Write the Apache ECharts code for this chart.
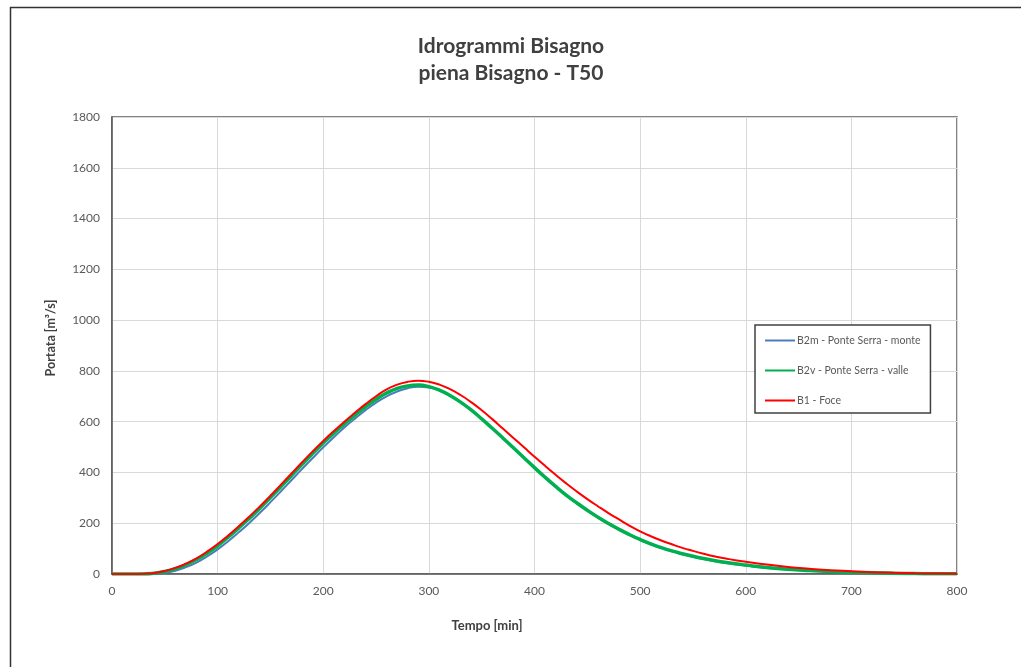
<!DOCTYPE html>
<html>
<head>
<meta charset="utf-8">
<script src="https://cdn.jsdelivr.net/npm/echarts@6/dist/echarts.min.js"></script>
<style>
  html, body { margin: 0; padding: 0; background: #fff; }
  #chart { width: 1021px; height: 667px; }
</style>
</head>
<body>
<div id="chart"></div>
<script>
// tempo [min]
var tempo = [
    0, 10, 20, 30, 40, 50, 60, 70, 80, 90,
    100, 110, 120, 130, 140, 150, 160, 170, 180, 190,
    200, 210, 220, 230, 240, 250, 260, 270, 280, 290,
    300, 310, 320, 330, 340, 350, 360, 370, 380, 390,
    400, 410, 420, 430, 440, 450, 460, 470, 480, 490,
    500, 510, 520, 530, 540, 550, 560, 570, 580, 590,
    600, 620, 640, 660, 680, 700, 720, 740, 760, 780, 800
];

// B2m - Ponte Serra - monte
var b2m = [
    0, 0, 0, 0, 0, 4, 13, 27, 45, 69,
    97, 129, 164, 201, 241, 283, 326, 370, 414, 457,
    499, 539, 577, 612, 645, 675, 700, 719, 732, 738,
    735, 723, 703, 677, 646, 611, 574, 536, 497, 458,
    417, 379, 343, 309, 278, 249, 222, 197, 174, 153,
    134, 117, 102, 89, 78, 68, 59, 51, 44, 38,
    33, 24, 18, 13, 9, 6, 4, 3, 2, 1, 0
];

// B2v - Ponte Serra - valle
var b2v = [
    0, 0, 0, 0, 3, 10, 21, 37, 57, 82,
    111, 145, 181, 219, 259, 301, 344, 388, 432, 475,
    516, 555, 591, 626, 658, 688, 713, 731, 741, 744,
    738, 724, 703, 677, 646, 611, 574, 536, 497, 458,
    419, 381, 345, 311, 280, 251, 224, 199, 176, 155,
    136, 119, 104, 91, 80, 70, 61, 53, 46, 40,
    35, 26, 19, 14, 10, 7, 5, 3, 2, 1, 1
];

// B1 - Foce
var b1 = [
    0, 0, 0, 1, 4, 12, 24, 41, 62, 88,
    118, 152, 188, 226, 266, 308, 352, 396, 440, 483,
    524, 563, 600, 635, 669, 700, 727, 746, 757, 761,
    757, 746, 728, 705, 677, 645, 610, 573, 536, 499,
    462, 426, 391, 357, 325, 295, 267, 240, 215, 190,
    168, 149, 132, 117, 103, 91, 80, 70, 62, 54,
    48, 37, 28, 21, 15, 11, 7, 5, 3, 2, 1
];

function coppie(valori) {
    var out = [];
    for (var i = 0; i < tempo.length; i++) {
        out.push([tempo[i], valori[i]]);
    }
    return out;
}

var font = 'Lato, "Open Sans", sans-serif';
var chart = echarts.init(document.getElementById('chart'), null, {renderer: 'canvas'});

chart.setOption({
    animation: false,
    backgroundColor: '#ffffff',
    title: {
        text: 'Idrogrammi Bisagno\npiena Bisagno - T50',
        left: 506,
        top: 28,
        textAlign: 'center',
        textStyle: {
            fontFamily: font,
            fontSize: 21,
            fontWeight: 'bold',
            color: '#404040',
            lineHeight: 27
        }
    },
    grid: {
        left: 112,
        right: 64,
        top: 117,
        bottom: 93,
        show: true,
        borderColor: '#595959',
        borderWidth: 1.5,
        containLabel: false
    },
    legend: {
        orient: 'vertical',
        left: 755,
        top: 325,
        padding: [10, 10, 7, 9],
        itemGap: 19,
        itemWidth: 30,
        itemHeight: 12,
        borderColor: '#404040',
        borderWidth: 1.5,
        backgroundColor: '#fff',
        itemStyle: {opacity: 0},
        textStyle: {fontFamily: font, fontSize: 10.5, color: '#595959', padding: [0, 10, 0, -3]},
        data: ['B2m - Ponte Serra - monte', 'B2v - Ponte Serra - valle', 'B1 - Foce']
    },
    xAxis: {
        type: 'value',
        min: 0,
        max: 800,
        interval: 100,
        axisLine: {show: true, lineStyle: {color: '#595959', width: 1.5}},
        axisTick: {show: false},
        axisLabel: {fontFamily: font, fontSize: 12, color: '#595959', margin: 11},
        splitLine: {show: true, lineStyle: {color: '#d9d9d9', width: 1}}
    },
    yAxis: {
        type: 'value',
        min: 0,
        max: 1800,
        interval: 200,
        axisLine: {show: true, lineStyle: {color: '#595959', width: 1.5}},
        axisTick: {show: false},
        axisLabel: {
            fontFamily: font,
            fontSize: 12,
            color: '#595959',
            margin: 12,
            formatter: function (v) { return String(v); }
        },
        splitLine: {show: true, lineStyle: {color: '#d9d9d9', width: 1}}
    },
    graphic: [
        {
            type: 'rect',
            left: 8,
            top: 5,
            shape: {width: 1100, height: 800},
            style: {fill: 'none', stroke: '#333', lineWidth: 1.5},
            silent: true
        },
        {
            type: 'text',
            x: 487,
            y: 626,
            style: {
                text: 'Tempo [min]',
                fontFamily: font,
                fontSize: 13,
                fontWeight: 'bold',
                fill: '#404040',
                align: 'center',
                verticalAlign: 'middle'
            }
        },
        {
            type: 'text',
            x: 51,
            y: 338,
            rotation: Math.PI / 2,
            style: {
                text: 'Portata [m³/s]',
                fontFamily: font,
                fontSize: 12.5,
                fontWeight: 'bold',
                fill: '#404040',
                align: 'center',
                verticalAlign: 'middle'
            }
        }
    ],
    series: [
        {
            name: 'B2m - Ponte Serra - monte',
            type: 'line',
            data: coppie(b2m),
            smooth: true,
            showSymbol: false,
            symbol: 'none',
            color: '#4a7ebb',
            lineStyle: {width: 2, color: '#4a7ebb'}
        },
        {
            name: 'B2v - Ponte Serra - valle',
            type: 'line',
            data: coppie(b2v),
            smooth: true,
            showSymbol: false,
            symbol: 'none',
            color: '#00b050',
            lineStyle: {width: 3.5, color: '#00b050'}
        },
        {
            name: 'B1 - Foce',
            type: 'line',
            data: coppie(b1),
            smooth: true,
            showSymbol: false,
            symbol: 'none',
            color: '#ff0000',
            lineStyle: {width: 2, color: '#ff0000'}
        }
    ]
});
</script>
</body>
</html>
